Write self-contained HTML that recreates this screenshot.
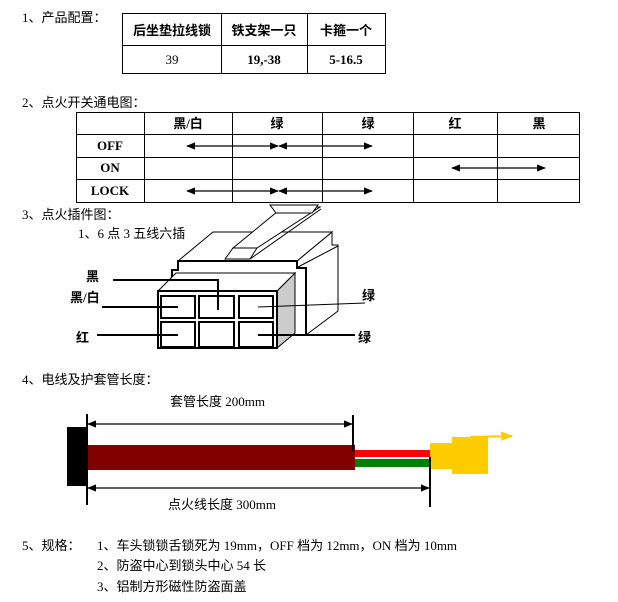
<!DOCTYPE html>
<html><head><meta charset="utf-8"><style>
body{margin:0;background:#fff;width:618px;height:602px;overflow:hidden}
svg{display:block}
text{font-family:"Liberation Serif","Noto Sans CJK SC",serif;font-size:13px;fill:#000}
.b{font-weight:bold}
</style></head><body>
<svg width="618" height="602" viewBox="0 0 618 602">
<defs>
<marker id="a" viewBox="0 0 10 10" refX="9" refY="5" markerWidth="7" markerHeight="7" orient="auto-start-reverse"><path d="M0,1L10,5L0,9z" fill="#000"/></marker>
<marker id="y" viewBox="0 0 10 10" refX="9" refY="5" markerWidth="6" markerHeight="6" orient="auto"><path d="M0,1L10,5L0,9z" fill="#fc0"/></marker>
</defs>
<text x="22" y="22" font-size="14">1、产品配置：</text>
<g stroke="#000" stroke-width="1" fill="none">
<rect x="122.5" y="13.5" width="263" height="60"/>
<line x1="122" y1="45.5" x2="385" y2="45.5"/>
<line x1="221.5" y1="13" x2="221.5" y2="73"/>
<line x1="307.5" y1="13" x2="307.5" y2="73"/>
</g>
<text class="b" x="172" y="35" text-anchor="middle">后坐垫拉线锁</text>
<text class="b" x="264" y="35" text-anchor="middle">铁支架一只</text>
<text class="b" x="346" y="35" text-anchor="middle">卡箍一个</text>
<text x="172" y="64" text-anchor="middle">39</text>
<text class="b" x="264" y="64" text-anchor="middle">19,-38</text>
<text class="b" x="346" y="64" text-anchor="middle">5-16.5</text>

<text x="22" y="107" font-size="14">2、点火开关通电图：</text>
<g stroke="#000" stroke-width="1" fill="none">
<rect x="76.5" y="112.5" width="503" height="90"/>
<line x1="76" y1="134.5" x2="580" y2="134.5"/>
<line x1="76" y1="157.5" x2="580" y2="157.5"/>
<line x1="76" y1="179.5" x2="580" y2="179.5"/>
<line x1="144.5" y1="112" x2="144.5" y2="203"/>
<line x1="232.5" y1="112" x2="232.5" y2="203"/>
<line x1="322.5" y1="112" x2="322.5" y2="203"/>
<line x1="413.5" y1="112" x2="413.5" y2="203"/>
<line x1="497.5" y1="112" x2="497.5" y2="203"/>
</g>
<text class="b" x="188" y="128" text-anchor="middle">黑/白</text>
<text class="b" x="277" y="128" text-anchor="middle">绿</text>
<text class="b" x="368" y="128" text-anchor="middle">绿</text>
<text class="b" x="455" y="128" text-anchor="middle">红</text>
<text class="b" x="539" y="128" text-anchor="middle">黑</text>
<text class="b" x="110" y="150" text-anchor="middle">OFF</text>
<text class="b" x="110" y="172" text-anchor="middle">ON</text>
<text class="b" x="110" y="195" text-anchor="middle">LOCK</text>
<g stroke="#000" stroke-width="1.3" marker-start="url(#a)" marker-end="url(#a)">
<line x1="187" y1="146" x2="278" y2="146"/><line x1="279" y1="146" x2="372" y2="146"/>
<line x1="452" y1="168" x2="545" y2="168"/>
<line x1="187" y1="191" x2="278" y2="191"/><line x1="279" y1="191" x2="372" y2="191"/>
</g>

<text x="22" y="219" font-size="14">3、点火插件图：</text>
<text x="78" y="238" font-size="12">1、6 点 3 五线六插</text>
<g stroke="#000" fill="#fff" stroke-width="1">
<polygon points="297,261 332,232 332,245 338,245 338,311 306,335 306,268 297,268"/>
<line x1="298" y1="267" x2="338" y2="246"/>
<polygon points="178,261 213,232 332,232 297,261"/>
<polygon points="233,248 257,248 320,207 283,207"/>
<line x1="250" y1="259" x2="321" y2="209"/>
<polygon points="270,205 318,205 312,213 276,213"/>
<polygon points="225,259 233,248 257,248 250,259"/>
<polygon points="172,270 178,270 178,261 297,261 297,268 306,268 306,335 172,335" />
</g>
<path d="M172,283 L172,270 L178,270 L178,261 L297,261 L297,268 L306,268 L306,335" fill="none" stroke="#000" stroke-width="2"/>
<polygon points="277,291 295,273 295,333 277,348" fill="#ccc" stroke="#000"/>
<polygon points="158,291 176,273 295,273 277,291" fill="#fff" stroke="#000"/>
<rect x="158" y="291" width="119" height="57" fill="#fff" stroke="#000" stroke-width="2"/>
<g fill="none" stroke="#000" stroke-width="2">
<rect x="161" y="296" width="34" height="22"/><rect x="199" y="296" width="35" height="22"/><rect x="239" y="296" width="34" height="22"/>
<rect x="161" y="322" width="34" height="25"/><rect x="199" y="322" width="35" height="25"/><rect x="239" y="322" width="34" height="25"/>
</g>
<g stroke="#000" fill="none">
<polyline points="113,280 218,280 218,310" stroke-width="2"/>
<line x1="102" y1="307" x2="178" y2="307" stroke-width="2"/>
<line x1="97" y1="335" x2="178" y2="335" stroke-width="2"/>
<line x1="258" y1="307" x2="365" y2="303" stroke-width="1"/>
<line x1="258" y1="335" x2="355" y2="335" stroke-width="2"/>
</g>
<text class="b" x="86" y="281">黑</text>
<text class="b" x="70" y="302">黑/白</text>
<text class="b" x="76" y="342">红</text>
<text class="b" x="362" y="300">绿</text>
<text class="b" x="358" y="342">绿</text>

<text x="22" y="384" font-size="14">4、电线及护套管长度：</text>
<text x="170" y="406" font-size="12">套管长度 200mm</text>
<rect x="67" y="427" width="20" height="59" fill="#000"/>
<rect x="88" y="445" width="267" height="25" fill="#800000"/>
<rect x="355" y="450" width="75" height="7" fill="#f00"/>
<rect x="355" y="459" width="75" height="8" fill="#008000"/>
<rect x="430" y="443" width="22" height="26" fill="#fc0"/>
<rect x="452" y="437" width="36" height="37" fill="#fc0"/>
<line x1="470" y1="437" x2="512" y2="436" stroke="#fc0" stroke-width="2" marker-end="url(#y)"/>
<g stroke="#000" stroke-width="2">
<line x1="87" y1="414" x2="87" y2="505"/>
<line x1="353" y1="415" x2="353" y2="452"/>
<line x1="430" y1="457" x2="430" y2="507"/>
</g>
<g stroke="#000" stroke-width="1.3" marker-start="url(#a)" marker-end="url(#a)">
<line x1="88" y1="424" x2="352" y2="424"/>
<line x1="88" y1="488" x2="429" y2="488"/>
</g>
<text x="168" y="509" font-size="12">点火线长度 300mm</text>

<text x="22" y="550" font-size="14">5、规格：</text>
<text x="97" y="550">1、车头锁锁舌锁死为 19mm，OFF 档为 12mm，ON 档为 10mm</text>
<text x="97" y="570" font-size="12">2、防盗中心到锁头中心 54 长</text>
<text x="97" y="591" font-size="12">3、铝制方形磁性防盗面盖</text>
</svg>
</body></html>
